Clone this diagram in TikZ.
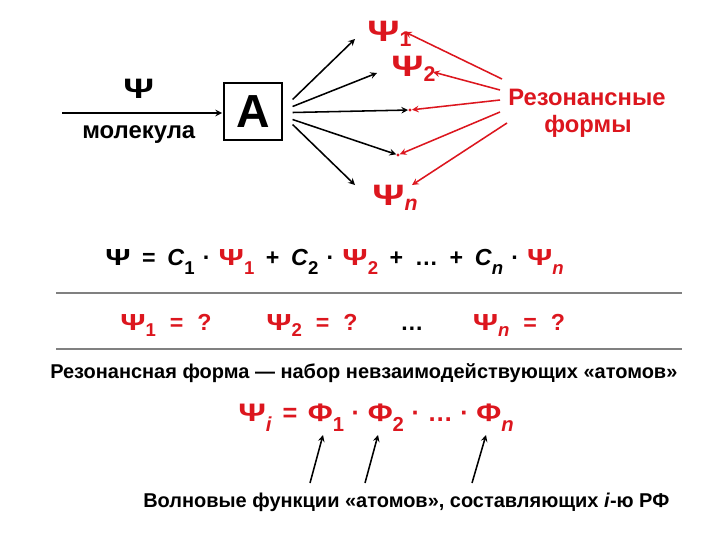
\documentclass[tikz,border=0pt]{standalone}
\usepackage{fontspec}
\setmainfont{Liberation Sans}
\usepackage{graphicx}
\usetikzlibrary{arrows,positioning}
\definecolor{psired}{RGB}{220,22,30}
\definecolor{rulegray}{RGB}{128,128,128}
\tikzstyle{arrow} = [line width=1.1pt,->,>=stealth]
\tikzstyle{redarrow} = [arrow,color=psired]
\tikzstyle{rulebar} = [line width=2pt,color=rulegray]
\tikzstyle{wavelbl} = [inner sep=0pt, font=\bfseries\fontsize{21}{24}\selectfont, text=psired]
\tikzstyle{eqline} = [inner sep=0pt, font=\bfseries\fontsize{16.5}{19}\selectfont]
\tikzstyle{plain} = [inner sep=0pt, font=\bfseries\fontsize{14.2}{17}\selectfont]
\tikzstyle{reddot} = [circle, fill=psired, inner sep=0pt, minimum size=2.4pt]
\newcommand{\Ps}{\scalebox{1.35}[1]{Ψ}}
\newcommand{\Ph}{\scalebox{1.2}[1]{Φ}}
\newcommand{\ix}[2][-0.4em]{\raisebox{#1}{\scalebox{0.8}{#2}}}
\newcommand{\tx}[1]{\raisebox{-0.17em}{\scalebox{0.72}{#1}}}
\newcommand{\rd}[1]{{\color{psired}#1}}
\newcommand{\gap}[1][0.5em]{\hspace{#1}}

\begin{document}
\begin{tikzpicture}[x=0.025cm, y=-0.025cm]
\useasboundingbox (0,0) rectangle (720,540);
% molecule and operator
\node[inner sep=0pt, font=\bfseries\fontsize{20}{24}\selectfont, anchor=base west] (psi) at (123,98) {\Ps};
\node[plain, font=\bfseries\fontsize{17}{20}\selectfont, anchor=base west] (mol) at (82,138) {молекула};
\coordinate (molstart) at (62,113);
\node[draw, line width=0.8pt, minimum width=1.45cm, minimum height=1.425cm, inner sep=0pt,
      font=\bfseries\fontsize{33}{36}\selectfont] (A) at (253,111.5) {A};
\draw[arrow] (molstart) -- ([xshift=-1pt]molstart -| A.west);

% resonance forms
\node[wavelbl, anchor=base west] (psi1) at (367,41) {\Ps\tx{1}};
\node[wavelbl, anchor=base west] (psi2) at (391,76) {\Ps\tx{2}};
\node[reddot] (dot1) at (410,110) {};
\node[reddot] (dot2) at (398,155) {};
\node[wavelbl, anchor=base west] (psin) at (372,205) {\Ps\tx{\textit{n}}};

\draw[arrow] ([shift={(10,-12)}]A.east) -- ([shift={(-12,-2)}]psi1.base west);
\draw[arrow] ([shift={(10,-5)}]A.east) -- ([shift={(-14,-3)}]psi2.base west);
\draw[arrow] ([shift={(10,1)}]A.east) -- ([shift={(-23,3)}]dot1);
\draw[arrow] ([shift={(10,8)}]A.east) -- ([shift={(-23,-3)}]dot2);
\draw[arrow] ([shift={(10,13)}]A.east) -- ([shift={(-17,-20)}]psin.base west);

\node[plain, font=\bfseries\fontsize{16.9}{20}\selectfont, text=psired, anchor=base west] (rez) at (508,105) {Резонансные};
\node[plain, font=\bfseries\fontsize{16.9}{20}\selectfont, text=psired, anchor=base] (forms) at (588,132) {формы};

\draw[redarrow] ([shift={(-6,-26)}]rez.base west) -- ([shift={(38,-9)}]psi1.base west);
\draw[redarrow] ([shift={(-8,-15)}]rez.base west) -- ([shift={(42,-4)}]psi2.base west);
\draw[redarrow] ([shift={(-8,-5)}]rez.base west) -- ([shift={(24,-3)}]dot1);
\draw[redarrow] ([shift={(-8,7)}]rez.base west) -- ([shift={(19,0)}]dot2);
\draw[redarrow] ([shift={(-1,18)}]rez.base west) -- ([shift={(40,-20)}]psin.base west);

% superposition
\node[eqline, anchor=base west] (sum) at (105,265)
  {\Ps\gap=\gap\textit{C}\ix{1}\gap[0.35em]·\gap[0.35em]\rd{\Ps\ix{1}}\gap+\gap\textit{C}\ix{2}\gap[0.35em]·\gap[0.35em]\rd{\Ps\ix{2}}\gap+\gap…\gap+\gap\textit{C}\ix{\textit{n}}\gap[0.35em]·\gap[0.35em]\rd{\Ps\ix{\textit{n}}}};
\coordinate (rule1l) at (56,293);
\coordinate (rule1r) at (682,293);
\draw[rulebar] (rule1l) -- (rule1r);

\node[eqline, text=psired, anchor=base] (q1) at (166,330) {\Ps\ix[-0.3em]{1}\gap[0.6em]=\gap[0.6em]?};
\node[eqline, text=psired, anchor=base] (q2) at (312,330) {\Ps\ix[-0.3em]{2}\gap[0.6em]=\gap[0.6em]?};
\node[eqline, anchor=base] (qdots) at (412,330) {…};
\node[eqline, text=psired, anchor=base] (qn) at (519,330) {\Ps\ix[-0.3em]{\textit{n}}\gap[0.6em]=\gap[0.6em]?};
\coordinate (rule2l) at (56,349);
\coordinate (rule2r) at (682,349);
\draw[rulebar] (rule2l) -- (rule2r);

% product of atoms
\node[plain, anchor=base west] (def) at (50,378) {Резонансная форма — набор невзаимодействующих «атомов»};
\node[eqline, font=\bfseries\fontsize{18}{21}\selectfont, text=psired, anchor=base west] (prod) at (238,421)
  {\Ps\ix{\textit{i}}\gap[0.42em]=\gap[0.42em]\Ph\ix{1}\gap[0.3em]·\gap[0.3em]\Ph\ix{2}\gap[0.3em]·\gap[0.3em]…\gap[0.3em]·\gap[0.3em]\Ph\ix{\textit{n}}};
\node[plain, anchor=base west] (wave) at (143,507) {Волновые функции «атомов», составляющих \textit{i}-ю РФ};

\draw[arrow] ([shift={(167,-24)}]wave.base west) -- ([shift={(85,14)}]prod.base west);
\draw[arrow] ([shift={(222,-24)}]wave.base west) -- ([shift={(140,14)}]prod.base west);
\draw[arrow] ([shift={(329,-24)}]wave.base west) -- ([shift={(248,14)}]prod.base west);
\end{tikzpicture}
\end{document}
